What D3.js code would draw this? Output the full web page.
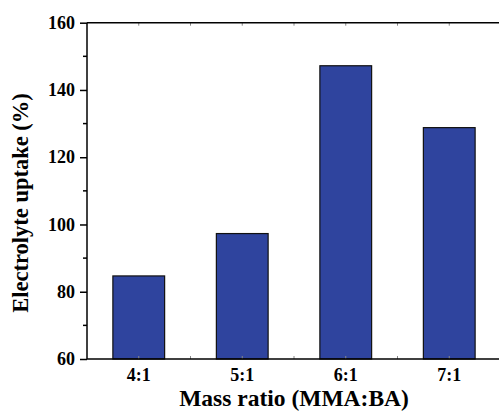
<!DOCTYPE html>
<html>
<head>
<meta charset="utf-8">
<script src="https://cdn.jsdelivr.net/npm/d3@7"></script>
<style>
  body { margin: 0; background: #fff; }
  text { font-family: "Liberation Serif", "Times New Roman", serif; font-weight: bold; }
</style>
</head>
<body>
<div id="chart"></div>
<script>
const categories = ["4:1", "5:1", "6:1", "7:1"];
const uptake = [84.7, 97.3, 147.2, 128.8];
const yTicks = [60, 80, 100, 120, 140, 160];
const yMinorTicks = [70, 90, 110, 130, 150];

const width = 499, height = 412;
const margin = {top: 22.7, right: -2, bottom: 53, left: 87};

const svg = d3.select("#chart")
  .append("svg")
  .attr("width", width)
  .attr("height", height);

const xScale = d3.scaleBand()
  .domain(categories)
  .range([margin.left, width - margin.right])
  .paddingInner(0.5)
  .paddingOuter(0.25);

const yScale = d3.scaleLinear()
  .domain([60, 160])
  .range([height - margin.bottom, margin.top]);

const x0 = margin.left, x1 = width - margin.right;
const y0 = yScale(60), y1 = yScale(160);

// bars
svg.append("g")
  .selectAll("rect")
  .data(uptake)
  .join("rect")
  .attr("x", (d, i) => xScale(categories[i]))
  .attr("y", d => yScale(d))
  .attr("width", xScale.bandwidth())
  .attr("height", d => yScale(60) - yScale(d))
  .attr("fill", "#2f449e")
  .attr("stroke", "#111")
  .attr("stroke-width", 1.2);

// small inward ticks on top and bottom (centers and midpoints)
const step = xScale.step();
const tickXs = [];
categories.forEach((c, i) => {
  const cx = xScale(c) + xScale.bandwidth() / 2;
  tickXs.push(cx);
  if (i < categories.length - 1) tickXs.push(cx + step / 2);
});
svg.append("g")
  .selectAll("line.tt")
  .data(tickXs)
  .join("line")
  .attr("x1", d => d).attr("x2", d => d)
  .attr("y1", y1).attr("y2", y1 + 3)
  .attr("stroke", "#888").attr("stroke-width", 1);
svg.append("g")
  .selectAll("line.bt")
  .data(tickXs)
  .join("line")
  .attr("x1", d => d).attr("x2", d => d)
  .attr("y1", y0).attr("y2", y0 - 3)
  .attr("stroke", "#888").attr("stroke-width", 1);

// frame
svg.append("line").attr("x1", x0).attr("x2", x1).attr("y1", y1).attr("y2", y1)
  .attr("stroke", "#000").attr("stroke-width", 1.5);
svg.append("line").attr("x1", x0).attr("x2", x1).attr("y1", y0).attr("y2", y0)
  .attr("stroke", "#000").attr("stroke-width", 1.5);

// y axis
const yAxis = d3.axisLeft(yScale)
  .tickValues(yTicks)
  .tickSize(7)
  .tickPadding(5)
  .tickFormat(d3.format("d"));
const gy = svg.append("g")
  .attr("transform", `translate(${x0},0)`)
  .call(yAxis);
gy.select(".domain").attr("stroke-width", 1.5).attr("d", `M0,${y0}V${y1}`);
gy.selectAll(".tick line").attr("stroke-width", 1.5);
gy.selectAll(".tick text")
  .attr("font-size", 18)
  .attr("font-family", "Liberation Serif, serif")
  .attr("font-weight", "bold")
  .attr("fill", "#000");

svg.append("g")
  .selectAll("line")
  .data(yMinorTicks)
  .join("line")
  .attr("x1", x0 - 4).attr("x2", x0)
  .attr("y1", d => yScale(d)).attr("y2", d => yScale(d))
  .attr("stroke", "#000").attr("stroke-width", 1.5);

// x labels
svg.append("g")
  .selectAll("text")
  .data(categories)
  .join("text")
  .attr("x", d => xScale(d) + xScale.bandwidth() / 2)
  .attr("y", 381)
  .attr("text-anchor", "middle")
  .attr("font-size", 18)
  .text(d => d);

// axis titles
svg.append("text")
  .attr("x", 294)
  .attr("y", 406)
  .attr("text-anchor", "middle")
  .attr("font-size", 23.5)
  .text("Mass ratio (MMA:BA)");

svg.append("text")
  .attr("transform", "translate(28,203) rotate(-90)")
  .attr("text-anchor", "middle")
  .attr("font-size", 22.5)
  .text("Electrolyte uptake (%)");
</script>
</body>
</html>
